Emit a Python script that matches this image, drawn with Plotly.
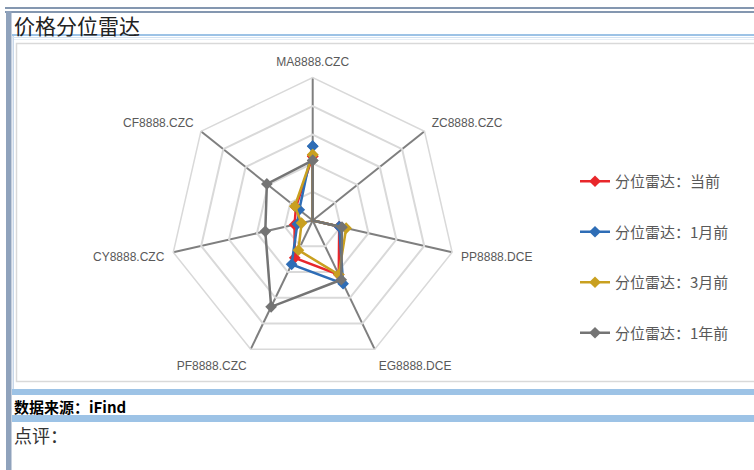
import plotly.graph_objects as go

W, H = 754, 470

categories = ["MA8888.CZC", "ZC8888.CZC", "PP8888.DCE", "EG8888.DCE",
              "PF8888.CZC", "CY8888.CZC", "CF8888.CZC"]
series_names = ["分位雷达：当前", "分位雷达：1月前", "分位雷达：3月前", "分位雷达：1年前"]
current_vals = [0.45, 0.00, 0.19, 0.42, 0.29, 0.13, 0.15]
month1_vals = [0.52, 0.00, 0.19, 0.49, 0.34, 0.11, 0.12]
month3_vals = [0.46, 0.00, 0.24, 0.42, 0.23, 0.08, 0.16]
year1_vals = [0.42, 0.00, 0.21, 0.46, 0.67, 0.34, 0.41]
series_colors = ["#E8272B", "#2E6DB6", "#C9A020", "#747474"]

title_text = "价格分位雷达"
source_text = "数据来源：iFind"
comment_text = "点评："


def X(px):
    return px / W


def Y(py):
    return 1 - py / H


fig = go.Figure()
all_vals = [current_vals, month1_vals, month3_vals, year1_vals]
for i, (name, vals, col) in enumerate(zip(series_names, all_vals, series_colors)):
    fig.add_trace(go.Scatterpolar(
        r=vals + vals[:1],
        theta=categories + categories[:1],
        mode="lines+markers",
        name=name,
        legendgroup="g%d" % i,
        line=dict(color=col, width=2.5),
        marker=dict(symbol="diamond", size=9, color=col),
    ))

cx, cy, R = 312.7, 220.5, 143
fig.update_layout(
    width=W, height=H, autosize=False,
    margin=dict(l=0, r=0, t=0, b=0),
    paper_bgcolor="white",
    polar=dict(
        domain=dict(x=[X(cx - R), X(cx + R)], y=[Y(cy + R), Y(cy - R)]),
        bgcolor="white",
        gridshape="linear",
        radialaxis=dict(range=[0, 1], dtick=0.2, showticklabels=False,
                        showline=False, ticks="", gridcolor="#D9D9D9", gridwidth=1.5),
        angularaxis=dict(rotation=90, direction="clockwise",
                         gridcolor="#7F7F7F", gridwidth=2,
                         linecolor="#D9D9D9", linewidth=1.5,
                         ticks="outside", ticklen=6, tickcolor="rgba(0,0,0,0)",
                         tickfont=dict(family="Liberation Sans, Arial", size=12, color="#595959")),
    ),
    showlegend=True,
    legend=dict(x=X(575), y=Y(165), xanchor="left", yanchor="top",
                tracegroupgap=28, bgcolor="rgba(0,0,0,0)",
                font=dict(family="Noto Sans CJK SC", size=15, color="#595959")),
)

shapes = []
def rect(x0, y0, x1, y1, fill, line=None, lw=0):
    shapes.append(dict(type="rect", xref="paper", yref="paper",
                       x0=X(x0), x1=X(x1), y0=Y(y1), y1=Y(y0),
                       fillcolor=fill,
                       line=dict(color=line or "rgba(0,0,0,0)", width=lw),
                       layer="below"))

# top double line
rect(5, 7, 754, 9, "#8497B0")
rect(5, 11, 754, 13, "#8497B0")
# left bar
rect(6, 11, 11.5, 470, "#8FA2BC")
rect(12.5, 36, 14, 392, "#C9D8EA")
# title bottom lines
rect(12, 34, 754, 36, "#9DC3E6")
rect(12, 37, 754, 38, "#D3E3F3")
rect(14, 39, 754, 40, "#E6EEF6")
# chart frame
shapes.append(dict(type="rect", xref="paper", yref="paper",
                   x0=X(16.5), x1=X(760), y0=Y(381.5), y1=Y(43.5),
                   fillcolor="rgba(0,0,0,0)", line=dict(color="#D9D9D9", width=1.5),
                   layer="below"))
# bottom bars
rect(12, 389, 754, 395, "#9DC3E6")
rect(12, 415, 754, 422, "#9DC3E6")
fig.update_layout(shapes=shapes)

fig.add_annotation(x=X(12), y=Y(25), xref="paper", yref="paper",
                   xanchor="left", yanchor="middle", showarrow=False,
                   text=title_text,
                   font=dict(family="Noto Sans CJK SC", size=21, color="#222222"))
fig.add_annotation(x=X(12), y=Y(406), xref="paper", yref="paper",
                   xanchor="left", yanchor="middle", showarrow=False,
                   text="<b>" + source_text + "</b>",
                   font=dict(family="Noto Sans CJK SC", size=15, color="#000000"))
fig.add_annotation(x=X(12), y=Y(435), xref="paper", yref="paper",
                   xanchor="left", yanchor="middle", showarrow=False,
                   text=comment_text,
                   font=dict(family="Noto Sans CJK SC", size=18, color="#333333"))

fig.write_html("out.html",
               config={"displayModeBar": False},
               post_script="document.body.style.margin='0';document.body.style.overflow='hidden';")
